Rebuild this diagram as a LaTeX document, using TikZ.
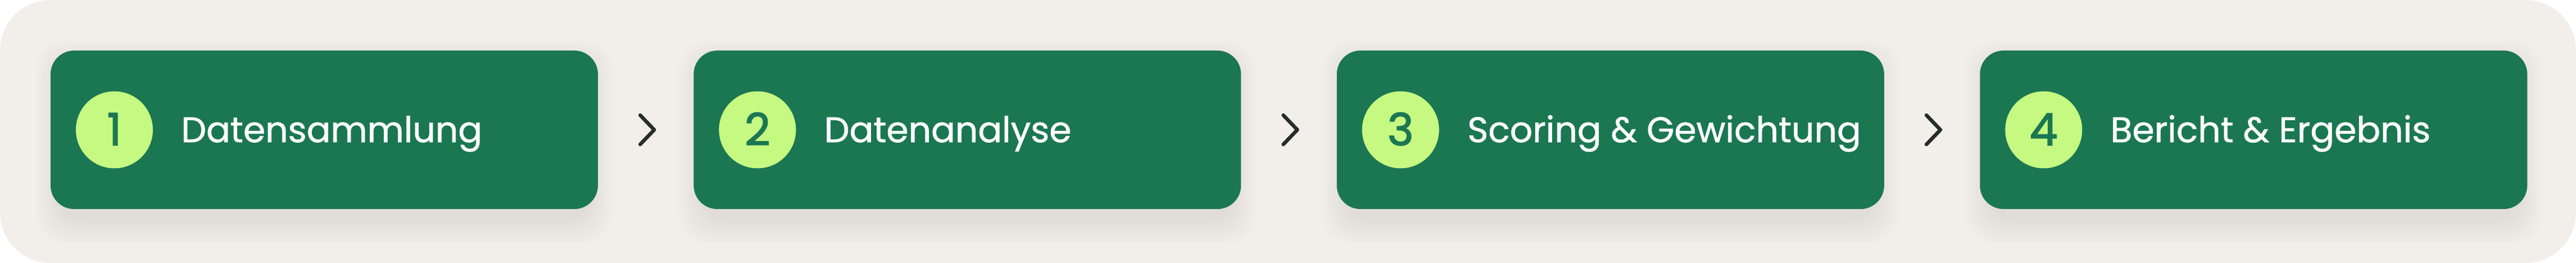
\documentclass[tikz,border=0pt]{standalone}
\usepackage{fontspec}
\setmainfont{Poppins}[FakeBold=1.0]
\newfontfamily\zahlfont{Poppins}[FakeBold=2.2]
\usepackage{tikz}
\usetikzlibrary{positioning, calc, backgrounds}
\definecolor{fondo}{HTML}{F2EFEB}
\definecolor{verde}{HTML}{1B7752}
\definecolor{lima}{HTML}{C5F982}
\definecolor{pfeil}{HTML}{272D2C}
\tikzstyle{paso} = [fill=verde, rectangle, rounded corners=0.42cm, minimum width=9.74cm, minimum height=2.82cm, inner sep=0pt]
\tikzstyle{schatten} = [fill=black, fill opacity=0.007, rounded corners=0.5cm]
\tikzstyle{numero} = [fill=lima, circle, minimum size=1.37cm, inner sep=0pt, text=verde, text height=0.55cm, text depth=0pt, font=\zahlfont\fontsize{22.5}{22.5}\selectfont]
\tikzstyle{titulo} = [text=white, inner sep=0pt, text height=0.44cm, text depth=0pt, font=\fontsize{18}{18}\selectfont]
\tikzstyle{pfeilchen} = [draw=pfeil, line width=0.065cm, line cap=round, line join=round]

\begin{document}
\begin{tikzpicture}
	\useasboundingbox (0,0) rectangle (45.84,4.68);
	% pasos
	\node [paso] (p1) at (5.77,2.37) {};
	\node [paso, right=1.69cm of p1] (p2) {};
	\node [paso, right=1.69cm of p2] (p3) {};
	\node [paso, right=1.69cm of p3] (p4) {};
	\foreach \i/\txt in {1/Datensammlung, 2/Datenanalyse, 3/Scoring \& Gewichtung, 4/Bericht \& Ergebnis}{
		\node[numero, right=0.45cm] (n\i) at (p\i.west) {\i};
		\node[titulo, right=0.49cm of n\i] (t\i) {\txt};
	}
	% flechas
	\foreach \a/\b in {1/2, 2/3, 3/4}{
		\coordinate (c\a) at ($(p\a.east)!0.5!(p\b.west)$);
		\draw[pfeilchen] ([xshift=-0.1cm, yshift=0.26cm]c\a) -- ([xshift=0.15cm]c\a) -- ([xshift=-0.1cm, yshift=-0.26cm]c\a);
	}
	% fondo y sombras
	\begin{scope}[on background layer]
		\fill[fondo, rounded corners=0.9cm] (0,0) rectangle (45.84,4.68);
		\foreach \i in {1,...,4}{
			\foreach \k in {0,...,8}{
				\fill[schatten] ([xshift=0.15cm-\k*0.05cm, yshift=-0.22cm-\k*0.05cm]p\i.south west) rectangle ([xshift=-0.15cm+\k*0.05cm, yshift=-0.22cm+\k*0.05cm]p\i.north east);
			}
		}
	\end{scope}
\end{tikzpicture}
\end{document}
